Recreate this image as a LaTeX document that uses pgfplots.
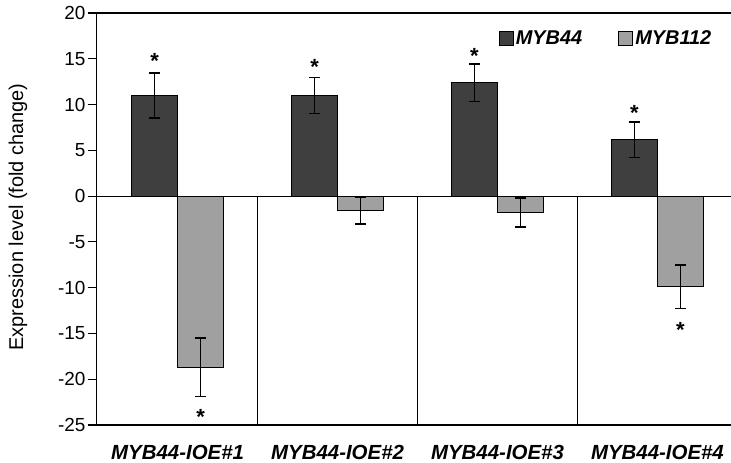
\documentclass[border=0pt]{standalone}
\usepackage{pgfplots}
\pgfplotsset{compat=1.18}
\usepackage{fontspec}
\setmainfont{Liberation Sans}
\definecolor{darkbar}{HTML}{3F3F3F}
\definecolor{lightbar}{HTML}{A0A0A0}
\begin{document}
\begin{tikzpicture}
\begin{axis}[
  scale only axis, width=634bp, height=412bp,
  xmin=-0.506, xmax=3.458, ymin=-25, ymax=20,
  axis x line*=bottom, axis y line*=left,
  axis line style={line width=1.2bp, black},
  ytick={-25,-20,...,20},
  tick align=outside, major tick length=9bp,
  ytick style={line width=1.2bp, black},
  xtick={0,1,2,3},
  xticklabels={MYB44-IOE\#1,MYB44-IOE\#2,MYB44-IOE\#3,MYB44-IOE\#4},
  xtick style={draw=none},
  xticklabel style={anchor=base, yshift=-25bp, font=\fontsize{20.5}{22}\selectfont\bfseries\itshape},
  yticklabel style={font=\fontsize{19}{21}\selectfont, inner sep=2bp},
  /pgf/number format/assume math mode=true,
  ylabel={Expression level (fold change)},
  every axis y label/.style={at={(axis description cs:-0.124,0.505)}, rotate=90, anchor=center, font=\fontsize{20}{22}\selectfont},
  legend columns=2,
  legend style={draw=none, fill=none, at={(rel axis cs:0.634,0.938)}, anchor=west, inner sep=0pt, font=\fontsize{20}{22}\selectfont\bfseries\itshape, /tikz/every even column/.append style={column sep=34bp}},
  legend image code/.code={\draw[#1, line width=1bp] (0bp,-7bp) rectangle (14bp,7bp);},
  clip=false,
]
\draw[line width=1.2bp] (axis cs:-0.506,0) -- (axis cs:3.458,0);
\draw[line width=1.2bp] (rel axis cs:0,1) -- (rel axis cs:1,1);
\draw[line width=1bp] (axis cs:0.5,0) -- (axis cs:0.5,-25);
\draw[line width=1bp] (axis cs:1.5,0) -- (axis cs:1.5,-25);
\draw[line width=1bp] (axis cs:2.5,0) -- (axis cs:2.5,-25);
\addplot[ybar, bar width=46bp, bar shift=0pt, fill=darkbar, draw=black, line width=1.2bp,
  error bars/.cd, y dir=both, y explicit,
  error bar style={line width=1.5bp, black},
  error mark options={rotate=90, mark size=5.5bp, line width=1.5bp, black}]
  coordinates {(-0.14375,11.0) +- (0,2.45) (0.85625,11.0) +- (0,1.95) (1.85625,12.38) +- (0,2.05) (2.85625,6.15) +- (0,1.95)};
\addlegendentry{MYB44}
\addplot[ybar, bar width=46bp, bar shift=0pt, fill=lightbar, draw=black, line width=1.2bp,
  error bars/.cd, y dir=both, y explicit,
  error bar style={line width=1.5bp, black},
  error mark options={rotate=90, mark size=5.5bp, line width=1.5bp, black}]
  coordinates {(0.14375,-18.7) +- (0,3.2) (1.14375,-1.6) +- (0,1.45) (2.14375,-1.78) +- (0,1.6) (3.14375,-9.9) +- (0,2.4)};
\addlegendentry{MYB112}
\addplot[draw=none, mark=none, forget plot, nodes near coords={*},
  every node near coord/.append style={anchor=center, yshift=-4bp, font=\fontsize{22}{22}\selectfont\bfseries}]
  coordinates {(-0.144,15.2) (0.856,14.56) (1.856,15.76) (2.856,9.5) (0.144,-23.7) (3.144,-14.2)};
\end{axis}
\pgfresetboundingbox
\path (current axis.south west) ++(-96.7bp,-38bp) rectangle ++(731bp,463bp);
\end{tikzpicture}
\end{document}
